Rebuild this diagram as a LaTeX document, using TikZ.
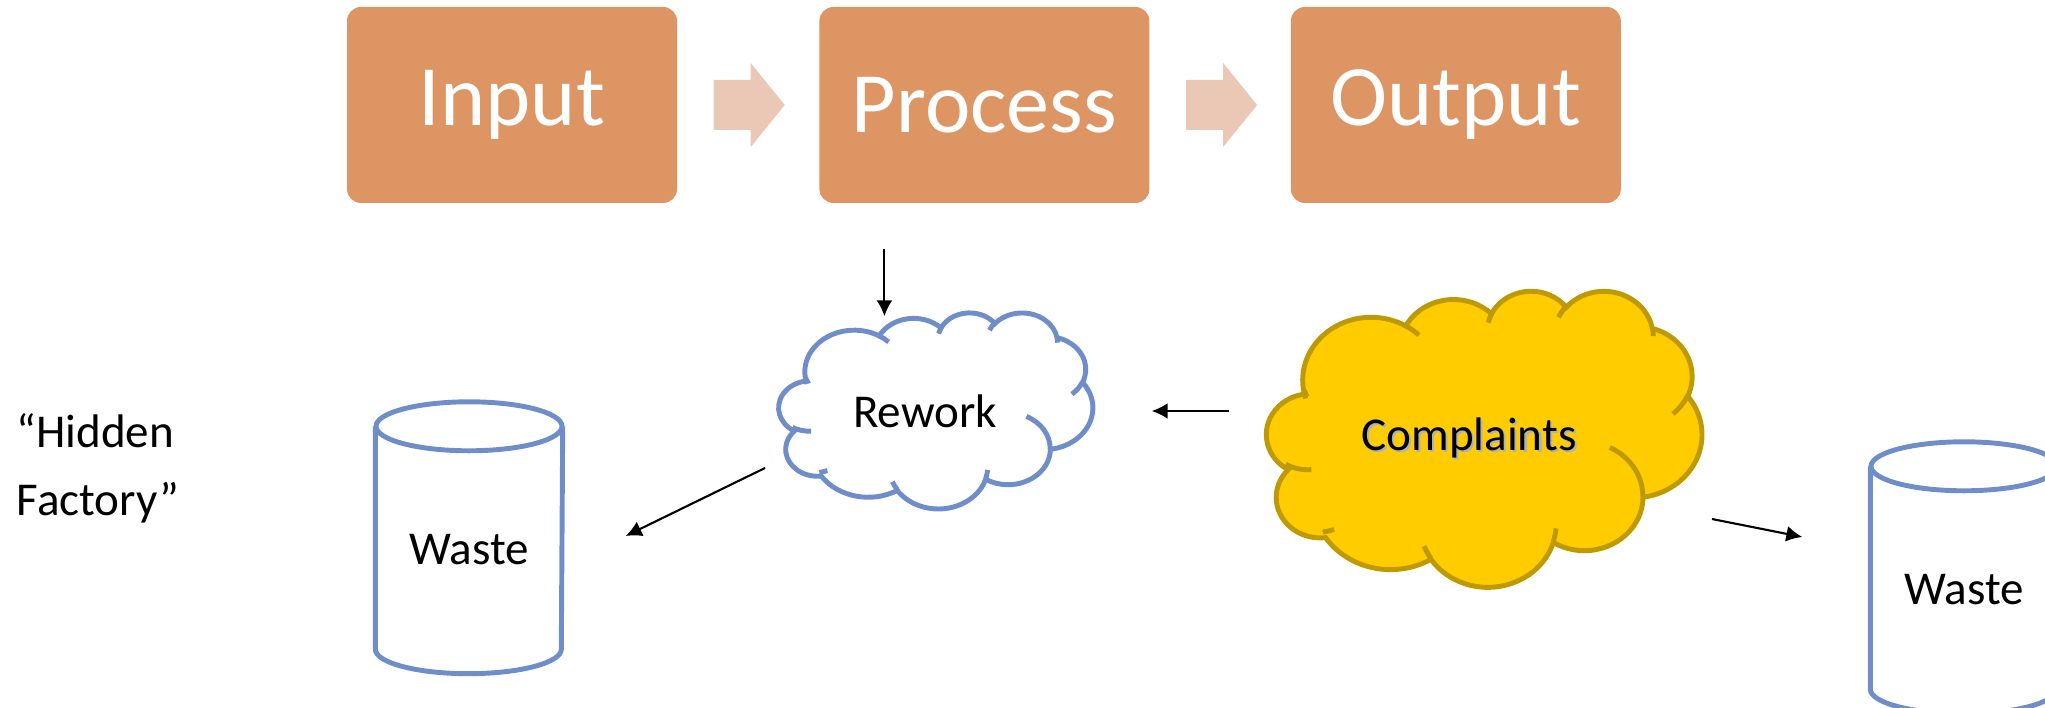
\documentclass[tikz,border=0pt]{standalone}
\usepackage{fontspec}
\setmainfont{Carlito}
\usetikzlibrary{arrows.meta, positioning, backgrounds}
\definecolor{stageorange}{RGB}{221,149,99}
\definecolor{chevpeach}{RGB}{235,199,181}
\definecolor{wasteblue}{RGB}{111,142,201}
\definecolor{complyellow}{RGB}{255,204,0}
\definecolor{complgold}{RGB}{191,153,0}
\tikzstyle{stage} = [rectangle, rounded corners=0.14cm, minimum width=3.3cm, minimum height=1.96cm, text centered, fill=stageorange, text=white, font=\fontsize{24.5}{29}\selectfont]
\tikzstyle{chev} = [fill=chevpeach]
\tikzstyle{puffbox} = [rectangle, inner sep=0pt, font=\fontsize{13.4}{16}\selectfont]
\tikzstyle{reworkline} = [draw=wasteblue, fill=white, line width=1.4pt]
\tikzstyle{complline} = [draw=complgold, fill=complyellow, line width=1.4pt]
\tikzstyle{binbox} = [rectangle, minimum width=1.86cm, minimum height=1.97cm, inner sep=0pt, font=\fontsize{13.4}{16}\selectfont]
\tikzstyle{binline} = [draw=wasteblue, line width=1.4pt]
\tikzstyle{arrow} = [semithick, -{Latex[length=1.6mm, width=1.6mm]}]

% text with a soft grey shadow under it
\newcommand{\shadowed}[1]{\rlap{\kern0.6pt\raisebox{-0.6pt}{\textcolor{black!30}{#1}}}#1}

% one puff of the cloud: x radius, y radius, start and sweep (angles as seen on the ellipse)
\newcommand{\puff}[4]{arc[x radius=#1, y radius=#2,
    start angle={atan2(#1*sin(#3),#2*cos(#3))},
    delta angle={mod(atan2(#1*sin(#3+#4),#2*cos(#3+#4))-atan2(#1*sin(#3),#2*cos(#3))+720,360)}]}

% cloud outline round the label of a node: node, width, height, style
\newcommand{\puffcloud}[4]{%
  \begin{scope}[shift={([xshift=#2*0.033cm]#1.north west)}, xscale=#2/43.2, yscale=-#3/43.2]
    \path[#4] (3.900,14.370) \puff{6.753}{9.190}{-190.4875}{123.7805}
        \puff{5.333}{7.267}{-144.1024}{89.9452}
        \puff{4.365}{5.945}{-145.8079}{99.7230}
        \puff{4.857}{6.595}{-130.9861}{117.2417}
        \puff{5.333}{7.273}{-78.7089}{109.0269}
        \puff{6.775}{9.220}{-46.2673}{130.2690}
        \puff{5.785}{7.867}{0.6250}{114.0333}
        \puff{6.752}{9.215}{22.4516}{115.1726}
        \puff{7.720}{10.543}{66.2426}{71.2550}
        \puff{4.360}{5.918}{-274.9421}{146.7405}
        \puff{4.345}{5.945}{-246.8285}{152.5226} -- cycle;
    % inner folds
    \path[#4, fill=none] (4.693,26.177) \puff{4.345}{5.945}{86.742}{26.4295}
        (6.928,34.899) \puff{4.360}{5.918}{73.6105}{11.447}
        (16.478,39.090) \puff{6.752}{9.215}{137.624}{14.081}
        (28.827,34.751) \puff{6.752}{9.215}{6.4533}{15.998}
        (34.129,22.954) \puff{5.785}{7.867}{-70.2924}{70.9174}
        (41.798,15.354) \puff{5.333}{7.273}{30.318}{27.7515}
        (38.324,5.426) \puff{4.857}{6.595}{-13.744}{14.859}
        (29.078,3.952) \puff{4.857}{6.595}{-149.1815}{18.1954}
        (22.141,4.720) \puff{4.365}{5.945}{-163.4943}{17.6864}
        (14.000,5.192) \puff{6.753}{9.190}{-66.707}{12.319}
        (4.127,15.789) \puff{6.753}{9.190}{157.6544}{11.858};
  \end{scope}}

\begin{document}
\begin{tikzpicture}
    \useasboundingbox (0,0) rectangle (20.45,-7.08);
    %nodes
    \node (input) [stage] at (5.12,-1.05) {Input};
    \node (proc) [stage, right=1.41cm of input] {Process};
    \node (output) [stage, right=1.40cm of proc] {Output};
    \node (rework) [puffbox, minimum width=3.16cm, minimum height=1.96cm] at (9.25,-4.11) {Rework};
    \node (compl) [puffbox, minimum width=4.38cm, minimum height=2.96cm] at (14.69,-4.39) {\shadowed{Complaints}};
    \node (waste) [binbox] at (4.69,-5.50) {Waste};
    \node (waste2) [binbox] at (19.64,-5.90) {Waste};
    \node (hidden) [anchor=west, align=left, inner sep=0pt, font=\fontsize{13.4}{19.3}\selectfont] at (0.16,-4.68) {“Hidden\\Factory”};

    %clouds behind their labels
    \begin{scope}[on background layer]
        \puffcloud{rework}{3.16}{1.96}{reworkline}
        \puffcloud{compl}{4.38}{2.96}{complline}
    \end{scope}

    %waste bins
    \foreach \b in {waste, waste2} {
        \draw [binline] ([yshift=0.245cm]\b.north west) -- (\b.south west) arc[start angle=180, end angle=360, x radius=0.93cm, y radius=0.245cm] -- ([yshift=0.245cm]\b.north east);
        \draw [binline] ([yshift=0.245cm]\b.north) ellipse [x radius=0.93cm, y radius=0.245cm];
    }

    %chevrons between the stages
    \foreach \a in {input, proc}
        \fill [chev] ([xshift=0.36cm, yshift=0.25cm]\a.east) -- ++(0.37,0) -- ++(0,0.17) -- ++(0.34,-0.42) -- ++(-0.34,-0.42) -- ++(0,0.17) -- ++(-0.37,0) -- cycle;

    %arrows
    \draw [arrow] ([xshift=-1cm, yshift=-0.45cm]proc.south) -- ([xshift=-1cm, yshift=-0.04cm]proc.south |- rework.north);
    \draw [arrow] ([xshift=-0.20cm]compl.west |- rework.east) -- ([xshift=0.68cm]rework.east);
    \draw [arrow] ([xshift=-1.60cm, yshift=-0.57cm]rework.center) -- ([xshift=0.63cm, yshift=0.14cm]waste.east);
    \draw [arrow] ([xshift=2.43cm, yshift=-0.80cm]compl.center) -- ([xshift=-0.68cm, yshift=0.53cm]waste2.west);

    \end{tikzpicture}
\end{document}
